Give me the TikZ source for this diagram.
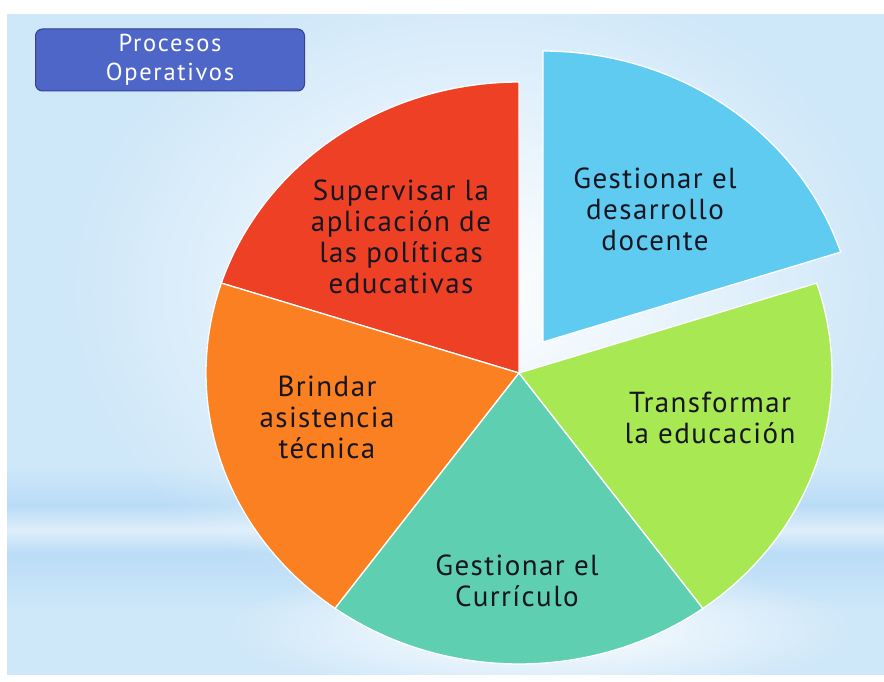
\documentclass[tikz,border=0pt]{standalone}
\usepackage{fontspec}
\setmainfont{PT Sans}
\newfontfamily\lblfont[LetterSpace=5]{PT Sans}
\newfontfamily\ttlfont[LetterSpace=7]{PT Sans}
\usetikzlibrary{fadings}
\definecolor{cBlue}{RGB}{95,203,240}
\definecolor{cRed}{RGB}{238,64,37}
\definecolor{cOrange}{RGB}{251,128,33}
\definecolor{cTeal}{RGB}{94,207,177}
\definecolor{cGreen}{RGB}{168,232,82}
\definecolor{boxFill}{RGB}{79,102,201}
\definecolor{boxBorder}{RGB}{50,66,150}
\definecolor{bgMid}{RGB}{206,231,249}
\definecolor{band}{RGB}{186,220,246}
\definecolor{bandLight}{RGB}{222,238,251}
\definecolor{txt}{RGB}{22,22,32}
\tikzfading[name=glowfade, inner color=transparent!0, outer color=transparent!100]
\begin{document}
\begin{tikzpicture}[x=1pt,y=-1pt,
  slice/.style={draw=white, line width=1.3pt, line join=round},
  lbl/.style={font=\lblfont\fontsize{29}{31}\selectfont, text=txt, align=center, inner sep=0pt},
  titlebox/.style={draw=boxBorder, line width=1pt, fill=boxFill, rounded corners=7pt,
    minimum width=269pt, minimum height=62pt, text=white, align=center,
    font=\ttlfont\fontsize{24.5}{29}\selectfont}]
\useasboundingbox (0,0) rectangle (884,682);
\fill[white] (0,0) rectangle (884,682);
% background
\fill[bgMid] (7,14) rectangle (884,675);
\shade[top color=bgMid, bottom color=band] (7,465) rectangle (884,505);
\shade[top color=band, bottom color=bandLight] (7,505) rectangle (884,530);
\shade[top color=bandLight, bottom color=band] (7,530) rectangle (884,553);
\shade[top color=band, bottom color=bgMid] (7,553) rectangle (884,610);
\fill[white, path fading=glowfade] (60,-40) rectangle (900,620);
\fill[white, path fading=glowfade] (220,560) rectangle (860,700);
% pie
\coordinate (c) at (519,373);
\coordinate (cb) at (543,342);
\fill[cRed, slice] (c) -- plot[domain=90:162, samples=60, variable=\t] ({519+313*cos(\t)},{373-291*sin(\t)}) -- cycle;
\fill[cOrange, slice] (c) -- plot[domain=162:234, samples=60, variable=\t] ({519+313*cos(\t)},{373-291*sin(\t)}) -- cycle;
\fill[cTeal, slice] (c) -- plot[domain=234:306, samples=60, variable=\t] ({519+313*cos(\t)},{373-291*sin(\t)}) -- cycle;
\fill[cGreen, slice] (c) -- plot[domain=306:378, samples=60, variable=\t] ({519+313*cos(\t)},{373-291*sin(\t)}) -- cycle;
\fill[cBlue, slice] (cb) -- plot[domain=18:90, samples=60, variable=\t] ({543+313*cos(\t)},{342-291*sin(\t)}) -- cycle;
% labels
\node[lbl] (lblue) at (655,209) {Gestionar el\\desarrollo\\docente};
\node[lbl] (lred) at (401,237) {Supervisar la\\aplicación de\\las políticas\\educativas};
\node[lbl] (lorange) at (327,417) {Brindar\\asistencia\\técnica};
\node[lbl] (lgreen) at (710,418) {Transformar\\la educación};
\node[lbl] (lteal) at (517,581) {Gestionar el\\Currículo};
% title box
\node[titlebox] (title) at (170,60) {Procesos\\Operativos};
\end{tikzpicture}
\end{document}
